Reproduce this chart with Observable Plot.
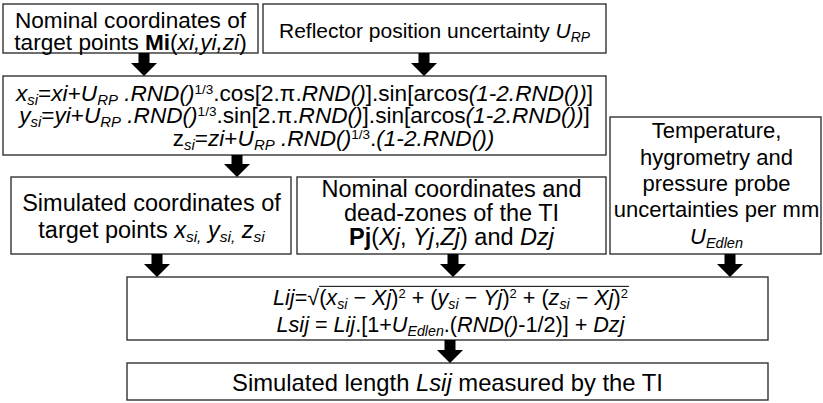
<!DOCTYPE html>
<html><head><meta charset="utf-8">
<script src="https://cdn.jsdelivr.net/npm/d3@7"></script>
<script src="https://cdn.jsdelivr.net/npm/@observablehq/plot@0.6"></script>
<style>body{margin:0;background:#fff}svg{display:block}</style>
</head><body><div id="chart"></div>
<script>
// ---- content (markup: *italic*, #bold#, _{sub}, ^{sup}, ~overline~) ----
const nodeIds = ["nominalMi", "reflector", "formulaS", "simulated", "nominalPj", "edlen", "formulaL", "result"];
const nodeLines = [
  ["Nominal coordinates of", "target points #Mi#(*xi,yi,zi*)"],
  ["Reflector position uncertainty *U*_{*RP*}"],
  ["*x*_{*si*}=*xi*+*U*_{*RP*} *.RND()*^{1/3}.cos[2.π.*RND()*].sin[arcos*(1-2.RND())*]",
   "*y*_{*si*}=*yi*+*U*_{*RP*} *.RND()*^{1/3}.sin[2.π.*RND()*].sin[arcos*(1-2.RND())*]",
   "z_{*si*}=*zi*+*U*_{*RP*} *.RND()*^{1/3}.*(1-2.RND())*"],
  ["Simulated coordinates of", "target points *x*_{*si,*} *y*_{*si,*} *z*_{*si*}"],
  ["Nominal coordinates and", "dead-zones of the TI", "#Pj#(*Xj*, *Yj*,*Zj*) and *Dzj*"],
  ["Temperature,", "hygrometry and", "pressure probe", "uncertainties per mm", "*U*_{*Edlen*}"],
  ["*Lij*=√~(*x*_{*si*} − *Xj*)^{2} + (*y*_{*si*} − *Yj*)^{2} + (*z*_{*si*} − *Xj*)^{2}~",
   "*Lsij* = *Lij*.[1+*U*_{*Edlen*}.(*RND()*-1/2)] + *Dzj*"],
  ["Simulated length *Lsij* measured by the TI"]
];
// flow links (from -> to)
const links = [["nominalMi","formulaS"],["reflector","formulaS"],["formulaS","simulated"],
  ["simulated","formulaL"],["nominalPj","formulaL"],["edlen","formulaL"],["formulaL","result"]];

// ---- layout (pixel geometry of the diagram) ----
const boxLayout = [
  {x1:3,   x2:258, y1:4,   y2:53,  cx:[130],          base:[27,49],              fs:22.6},
  {x1:263, x2:606, y1:4,   y2:53,  cx:[434],          base:[37],                 fs:21},
  {x1:3,   x2:606, y1:76,  y2:155, cx:[304,304,333],  base:[100,122,145],        fs:22.6},
  {x1:11,  x2:291, y1:177, y2:254, cx:[151],          base:[210,237],            fs:23.5},
  {x1:297, x2:606, y1:177, y2:254, cx:[451],          base:[196,220,244],        fs:23.5},
  {x1:610, x2:821, y1:117, y2:254, cx:[716],          base:[137,164,190,216,243],fs:22},
  {x1:127, x2:768, y1:277, y2:340, cx:[450],          base:[304,331],            fs:21.6},
  {x1:127, x2:768, y1:363, y2:400, cx:[447],          base:[390],                fs:23.8}
];
const arrowX = [144, 424, 237, 157, 453, 730, 450];
const arrowSize = {shaft: 5.5, head: 13, headLen: 13};

// ---- build tables ----
const boxRows = boxLayout.map((b, i) => ({id: nodeIds[i], ...b}));
const textRows = [];
nodeLines.forEach((lines, i) => {
  const b = boxLayout[i];
  lines.forEach((t, j) => textRows.push({text: t, x: b.cx[Math.min(j, b.cx.length - 1)], y: b.base[j], fs: b.fs}));
});
const arrowRows = [];
links.forEach(([from, to], k) => {
  const a = boxLayout[nodeIds.indexOf(from)], b = boxLayout[nodeIds.indexOf(to)];
  const cx = arrowX[k], y1 = a.y2, y2 = b.y1, yh = y2 - arrowSize.headLen;
  const {shaft, head} = arrowSize;
  arrowRows.push({id:k, y:y1, x1:cx-shaft, x2:cx+shaft},
                 {id:k, y:yh, x1:cx-shaft, x2:cx+shaft},
                 {id:k, y:yh, x1:cx-head,  x2:cx+head},
                 {id:k, y:y2, x1:cx,       x2:cx});
});

const plot = Plot.plot({
  width: 823, height: 403, margin: 0,
  x: {type: "identity", axis: null},
  y: {type: "identity", axis: null},
  style: {fontFamily: "'Liberation Sans', Arial, sans-serif", background: "white", color: "black"},
  marks: [
    Plot.rect(boxRows, {x1:"x1", x2:"x2", y1:"y1", y2:"y2", fill:"white", stroke:"#333", strokeWidth:1.4}),
    Plot.areaX(arrowRows, {y:"y", x1:"x1", x2:"x2", z:"id", fill:"black", curve:"linear"}),
    Plot.text(textRows, {x:"x", y:"y", text:"text", fontSize:"fs", lineAnchor:"bottom", textAnchor:"middle",
                         fill:"black", fontFamily:"'Liberation Sans', Arial, sans-serif"})
  ]
});
document.getElementById("chart").append(plot);

// ---- rich text post-processing ----
function parse(s) {
  const segs = []; let italic = false, bold = false, over = false, mode = null, buf = "";
  const push = () => { if (buf) segs.push({t: buf, italic, bold, over, mode}); buf = ""; };
  for (let i = 0; i < s.length; i++) {
    const c = s[i];
    if (c === "*") { push(); italic = !italic; }
    else if (c === "#") { push(); bold = !bold; }
    else if (c === "~") { push(); over = !over; }
    else if ((c === "_" || c === "^") && s[i+1] === "{") { push(); mode = c === "_" ? "sub" : "sup"; i++; }
    else if (c === "}" && mode) { push(); mode = null; }
    else buf += c;
  }
  push();
  return segs;
}
const NS = "http://www.w3.org/2000/svg";
d3.select(plot).selectAll('g[aria-label="text"] text').each(function () {
  const el = this, src = el.textContent, fs = +el.getAttribute("font-size") || 20;
  el.textContent = "";
  el.style.whiteSpace = "pre";
  let off = 0; const overSpans = [];
  for (const s of parse(src)) {
    const t = document.createElementNS(NS, "tspan");
    const target = s.mode === "sub" ? 0.2 * fs : s.mode === "sup" ? -0.3 * fs : 0;
    if (target !== off) { t.setAttribute("dy", target - off); off = target; }
    if (s.mode) t.setAttribute("font-size", (s.mode === "sup" ? 0.6 : 0.66) * fs);
    if (s.italic) t.setAttribute("font-style", "italic");
    if (s.bold) t.setAttribute("font-weight", "bold");
    t.textContent = s.t;
    el.appendChild(t);
    if (s.over) overSpans.push(t);
  }
  if (overSpans.length) {
    const first = overSpans[0], last = overSpans[overSpans.length - 1];
    const xa = first.getStartPositionOfChar(0).x;
    const xb = last.getEndPositionOfChar(last.getNumberOfChars() - 1).x;
    const line = document.createElementNS(NS, "line");
    const yo = -0.84 * fs;
    line.setAttribute("x1", xa); line.setAttribute("x2", xb + 1);
    line.setAttribute("y1", yo); line.setAttribute("y2", yo);
    line.setAttribute("stroke", "black"); line.setAttribute("stroke-width", 1);
    const tr = el.getAttribute("transform"); if (tr) line.setAttribute("transform", tr);
    el.parentNode.appendChild(line);
  }
});
</script></body></html>
